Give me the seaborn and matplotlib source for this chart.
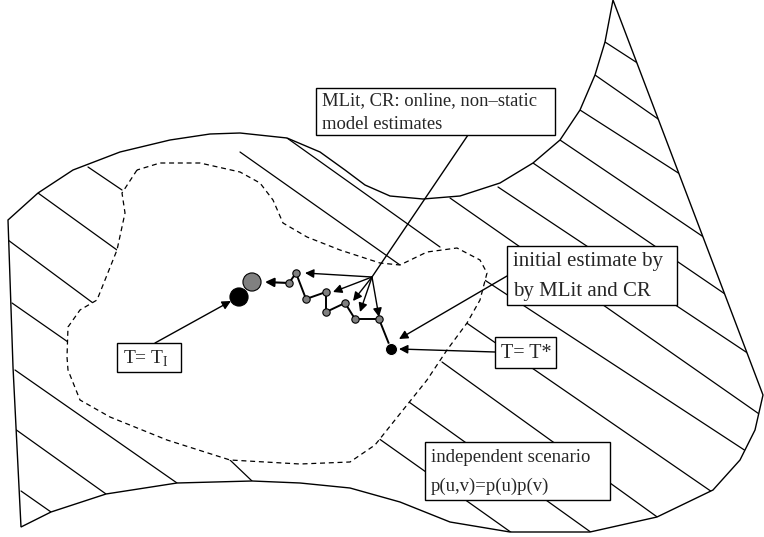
import numpy as np
import matplotlib
matplotlib.use("Agg")
import matplotlib.pyplot as plt
import pandas as pd
import seaborn as sns
from matplotlib.patches import Polygon, Rectangle

sns.set_style("white")
plt.rcParams['font.family'] = ['Liberation Serif', 'DejaVu Serif']
plt.rcParams['mathtext.fontset'] = 'custom'
plt.rcParams['mathtext.rm'] = 'Liberation Serif'

# outer surface outline (pixel coords, y down)
outer_x = [8, 38, 73, 120, 170, 210, 240, 287, 320, 345, 365, 390, 423, 460, 500, 533, 560, 580, 595, 605, 613,
           763, 755, 740, 713, 657, 590, 510, 450, 400, 350, 300, 252, 177, 106, 51, 21, 13]
outer_y = [220, 193, 170, 152, 140, 134, 133, 138, 152, 170, 185, 196, 199, 196, 183, 163, 140, 110, 75, 42, 0,
           395, 430, 460, 490, 517, 532, 532, 522, 502, 488, 483, 481, 483, 494, 512, 527, 367]

# dashed region
dash_x = [137, 122, 125, 117, 97, 80, 68, 67, 68, 80, 110, 167, 230, 300, 350, 375, 395, 427, 447, 467, 480, 487,
          480, 457, 427, 400, 380, 340, 307, 283, 273, 260, 240, 200, 160, 137]
dash_y = [170, 193, 213, 250, 300, 310, 327, 357, 370, 400, 417, 440, 460, 464, 462, 445, 420, 380, 350, 323, 300, 273,
          260, 248, 252, 265, 263, 250, 237, 223, 200, 183, 172, 163, 163, 170]

# hatch strokes (x0, y0, x1, y1); parts under the dashed region or boxes are hidden
hatch = [(38, 193, 117, 250), (8, 240, 93, 303), (12, 303, 68, 342), (15, 370, 177, 483),
         (15, 429, 106, 494), (21, 491, 51, 512), (230, 460, 252, 481), (88, 167, 122, 190),
         (240, 152, 400, 265), (287, 138, 440, 247), (450, 198, 762, 416), (498, 187, 752, 356),
         (533, 163, 725, 294), (560, 140, 705, 238), (580, 110, 683, 176), (595, 75, 661, 121),
         (605, 42, 639, 64), (455, 315, 715, 494), (480, 277, 752, 455), (442, 362, 660, 519),
         (395, 392, 592, 533), (378, 438, 512, 533)]

# optimisation path
path_x = [391, 379, 355, 345, 326, 326, 306, 296, 289]
path_y = [349, 319, 319, 303, 312, 292, 299, 273, 283]

# fan of arrows from hub
hub = (372, 277)
fan_x = [305, 333, 353, 360, 379]
fan_y = [273, 292, 301, 312, 317]

# boxes: x0, y0, x1, y1, font size and text lines
boxes = [
    ((316, 88, 555, 135), 13.4, ["MLit, CR: online, non\u2013static", "model estimates"]),
    ((507, 246, 677, 305), 15, ["initial estimate by", "by MLit and CR"]),
    ((495, 337, 556, 368), 14.5, ["T= T*"]),
    ((117, 343, 181, 372), 14, ["T= T$_{\\rm I}$"]),
    ((425, 442, 610, 500), 13.5, ["independent scenario", "p(u,v)=p(u)p(v)"]),
]

fig = plt.figure(figsize=(7.64, 5.37), dpi=100)
ax = fig.add_axes([0, 0, 1, 1])

outline = Polygon(np.column_stack([outer_x, outer_y]), closed=True, fill=False, ec='black', lw=1.0, zorder=2)
ax.add_patch(outline)

for x0, y0, x1, y1 in hatch:
    ln, = ax.plot([x0, x1], [y0, y1], color='black', lw=0.9, zorder=1)
    ln.set_clip_path(outline)

inner = Polygon(np.column_stack([dash_x, dash_y]), closed=True, fc='white', ec='black',
                lw=0.9, ls=(0, (4, 3)), zorder=3)
ax.add_patch(inner)

for (x0, y0, x1, y1), fs, lines in boxes:
    ax.add_patch(Rectangle((x0, y0), x1 - x0, y1 - y0, fc='white', ec='black', lw=1.0, zorder=5))
    n = len(lines)
    h = (y1 - y0) / n
    for i, t in enumerate(lines):
        ax.text(x0 + 6, y0 + h * (i + 0.5) + 1, t, fontsize=fs, va='center', ha='left', zorder=6)

arrow = dict(arrowstyle='-|>', color='black', lw=1.0, mutation_scale=13, shrinkA=0, shrinkB=0)

# pointer lines
ax.plot([468, hub[0]], [135, hub[1]], color='black', lw=1.0, zorder=4)
for fx, fy in zip(fan_x, fan_y):
    ax.annotate('', xy=(fx, fy), xytext=hub, arrowprops=arrow, zorder=4)
ax.annotate('', xy=(231, 301), xytext=(155, 343), arrowprops=arrow, zorder=4)
ax.annotate('', xy=(399, 349), xytext=(495, 352), arrowprops=arrow, zorder=4)
ax.annotate('', xy=(399, 339), xytext=(507, 276), arrowprops=arrow, zorder=4)
ax.annotate('', xy=(265, 282), xytext=(289, 283), arrowprops=dict(arrow, lw=1.5), zorder=4)

path_df = pd.DataFrame({'x': path_x, 'y': path_y})
sns.lineplot(data=path_df, x='x', y='y', sort=False, estimator=None, color='black', lw=1.4, ax=ax, zorder=6)
sns.scatterplot(data=path_df.iloc[1:], x='x', y='y', s=28, color='#808080', edgecolor='black',
                linewidth=0.8, ax=ax, zorder=7)

dots = pd.DataFrame({'x': [252, 239, 391], 'y': [282, 297, 349], 'kind': ['gray', 'black', 'black']})
sns.scatterplot(data=dots.iloc[:2], x='x', y='y', hue='kind', palette={'gray': '#808080', 'black': 'black'},
                s=170, edgecolor='black', linewidth=0.8, legend=False, ax=ax, zorder=7)
sns.scatterplot(data=dots.iloc[2:], x='x', y='y', s=75, color='black', ax=ax, zorder=7)

ax.set_xlim(0, 764)
ax.set_ylim(537, 0)
ax.axis('off')
fig.savefig('out.png', dpi=100)
